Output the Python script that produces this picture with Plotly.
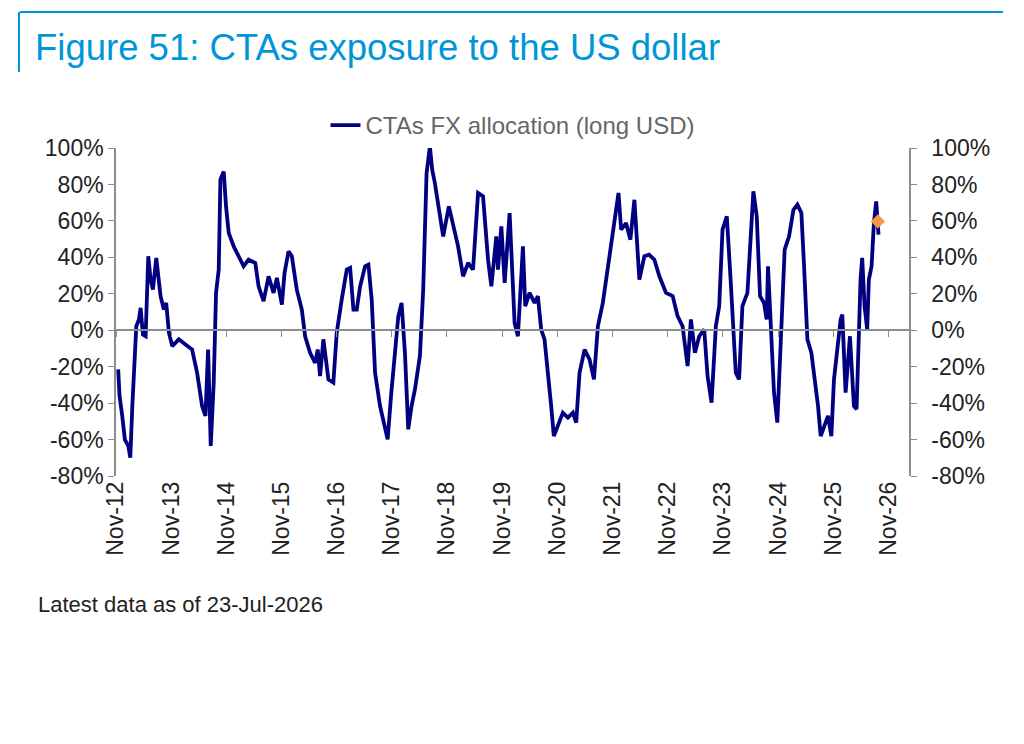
import pandas as pd
import plotly.graph_objects as go

# decimal year / allocation (% long USD)
years = [
    2012.875, 2012.899, 2012.948, 2012.996, 2013.056, 2013.092, 2013.129, 2013.165, 2013.201, 2013.249,
    2013.279, 2013.321, 2013.370, 2013.418, 2013.460, 2013.502, 2013.563, 2013.641, 2013.701, 2013.743,
    2013.792, 2013.852, 2013.972, 2014.093, 2014.213, 2014.304, 2014.394, 2014.455, 2014.503, 2014.551,
    2014.605, 2014.647, 2014.696, 2014.726, 2014.786, 2014.828, 2014.877, 2014.967, 2015.057, 2015.148,
    2015.238, 2015.359, 2015.419, 2015.509, 2015.600, 2015.690, 2015.751, 2015.841, 2015.889, 2015.962,
    2016.022, 2016.112, 2016.203, 2016.263, 2016.353, 2016.444, 2016.492, 2016.534, 2016.594, 2016.685,
    2016.775, 2016.836, 2016.926, 2017.016, 2017.077, 2017.137, 2017.197, 2017.258, 2017.348, 2017.408,
    2017.468, 2017.529, 2017.619, 2017.679, 2017.757, 2017.818, 2017.890, 2017.950, 2018.010, 2018.071,
    2018.131, 2018.191, 2018.252, 2018.342, 2018.402, 2018.463, 2018.523, 2018.565, 2018.613, 2018.704,
    2018.764, 2018.867, 2018.945, 2019.035, 2019.126, 2019.216, 2019.306, 2019.397, 2019.487, 2019.578,
    2019.638, 2019.728, 2019.758, 2019.819, 2019.879, 2019.969, 2020.060, 2020.120, 2020.211, 2020.253,
    2020.331, 2020.422, 2020.482, 2020.542, 2020.602, 2020.663, 2020.723, 2020.771, 2020.843, 2020.934,
    2021.024, 2021.115, 2021.175, 2021.235, 2021.326, 2021.416, 2021.496, 2021.568, 2021.657, 2021.718,
    2021.796, 2021.856, 2021.941, 2021.989, 2022.079, 2022.157, 2022.230, 2022.320, 2022.411, 2022.496,
    2022.592, 2022.683, 2022.803, 2022.924, 2023.014, 2023.104, 2023.195, 2023.255, 2023.327, 2023.406,
    2023.496, 2023.557, 2023.629, 2023.707, 2023.768, 2023.828, 2023.906, 2023.978, 2024.069, 2024.129,
    2024.189, 2024.280, 2024.328, 2024.388, 2024.449, 2024.509, 2024.581, 2024.629, 2024.653, 2024.702,
    2024.762, 2024.822, 2024.883, 2024.955, 2025.033, 2025.112, 2025.184, 2025.256, 2025.305, 2025.365,
    2025.437, 2025.485, 2025.558, 2025.606, 2025.678, 2025.739, 2025.799, 2025.847, 2025.907, 2025.968,
    2025.998, 2026.058, 2026.137, 2026.209, 2026.257, 2026.329, 2026.359, 2026.402, 2026.450, 2026.480,
    2026.529, 2026.571, 2026.613, 2026.655,
]
alloc = [
    -21.5, -36, -47, -60, -63.5, -70, -41.6, -23, 2.2, 5.9,
    12.3, -2.4, -3.3, 40.6, 27.8, 22.3, 39.7, 18.7, 11.3, 15,
    -1.4, -8.7, -5, -7.8, -10.6, -23.4, -41.6, -47, -10.6, -63.5,
    -28.8, 20.5, 33.3, 82.6, 87.1, 68, 53.4, 46, 40.6, 35.1,
    38.7, 36.9, 24.1, 15.9, 29.6, 20.5, 28.7, 14.1, 31.4, 43.3,
    40.6, 22.3, 11.3, -3.3, -12.4, -17.9, -10.6, -25.2, -5, -27,
    -28.8, -1.4, 16.8, 33.3, 34.2, 11.3, 11.3, 24.1, 35.1, 36,
    16.8, -23.4, -41.6, -48.9, -59.9, -36.1, -12.4, 7.7, 15, -12.4,
    -54.4, -41.6, -32.5, -14.2, 22.3, 86.2, 100.8, 88.1, 80.8, 62.5,
    51.5, 68, 57, 46, 29.6, 36.9, 33.3, 75.3, 73.5, 38.7,
    24.1, 51.5, 33.3, 57, 26, 64.3, 4, -3.3, 46, 13.2,
    20.5, 15, 18.7, 0.4, -5, -21.5, -41.6, -58.1, -52.6, -45.3,
    -48, -45.3, -50.7, -23.4, -10.6, -16, -27, 2.2, 15, 27.8,
    46, 55.2, 75.3, 55.2, 58.8, 49.7, 71.6, 27.8, 40.6, 41.5,
    38.7, 29.6, 20.5, 18.7, 7.7, 2.2, -19.7, 5.9, -12.4, -3.3,
    0.4, -25.2, -39.8, 2.2, 13.2, 55.2, 62.5, 26, -23.4, -27,
    13.2, 20.5, 44.2, 76.2, 62.5, 18.7, 15, 5.9, 35.1, 2.2,
    -34.3, -50.7, -5, 44.2, 51.5, 66.1, 68.9, 64.3, 35.1, -5,
    -12.4, -23.4, -41.6, -58.1, -52.6, -47, -58.1, -27, -10.6, 5.9,
    8.6, -34.3, -3.3, -41.6, -43.4, 27.8, 39.7, 13.2, 0.4, 27.8,
    35.1, 58.8, 70.7, 52.5,
]
latest_year = [2026.643]
latest_value = [59.7]

tick_years = list(range(2012, 2027))
tick_labels = [f"Nov-{str(y)[-2:]}" for y in tick_years]


def to_date(yrs):
    out = []
    for y in yrs:
        base = pd.Timestamp(year=int(y), month=1, day=1)
        out.append(base + pd.Timedelta(days=(y - int(y)) * 365.25))
    return out


BLUE = "#0096D6"
GREY = "#8c8c8c"
FONT = "Liberation Sans"

fig = go.Figure()
fig.add_trace(go.Scatter(x=to_date(years), y=alloc, mode="lines",
                         line=dict(color="#000080", width=3.8),
                         name="CTAs FX allocation (long USD)"))
fig.add_trace(go.Scatter(x=to_date(latest_year), y=latest_value, mode="markers",
                         marker=dict(symbol="diamond", size=11, color="#F79646"),
                         showlegend=False))
# invisible traces so the right axis and the zero-line axis get drawn
fig.add_trace(go.Scatter(x=to_date(latest_year), y=latest_value, yaxis="y2",
                         mode="markers", marker=dict(opacity=0), showlegend=False,
                         hoverinfo="skip"))
fig.add_trace(go.Scatter(x=to_date(latest_year), y=latest_value, xaxis="x2",
                         mode="markers", marker=dict(opacity=0), showlegend=False,
                         hoverinfo="skip"))

tickvals = [pd.Timestamp(year=y, month=11, day=1) for y in tick_years]
xrange = [pd.Timestamp("2012-11-01"), pd.Timestamp("2027-03-18")]
yticks = list(range(-80, 101, 20))
ytext = [f"{v}%" for v in yticks]

# page body adds an 8px offset, so margins are shifted by 8
fig.update_layout(
    width=1024, height=744,
    paper_bgcolor="white", plot_bgcolor="white",
    margin=dict(l=108, r=123, t=140, b=276),
    font=dict(family=FONT, size=23, color="#222222"),
    showlegend=True,
    legend=dict(orientation="h", x=0.5, xanchor="center", y=1.0, yanchor="bottom",
                font=dict(size=24, color="#666666"), bgcolor="rgba(0,0,0,0)"),
    xaxis=dict(range=xrange, tickvals=tickvals, ticktext=tick_labels, tickangle=-90,
               showline=False, showgrid=False, zeroline=False, ticks=""),
    xaxis2=dict(range=xrange, tickvals=tickvals, overlaying="x", anchor="free",
                position=80 / 180, showline=True, linecolor=GREY, linewidth=1.5,
                ticks="outside", ticklen=6, tickcolor=GREY, showticklabels=False,
                showgrid=False, zeroline=False),
    yaxis=dict(range=[-80, 100], tickvals=yticks, ticktext=ytext, showgrid=False,
               zeroline=False, showline=True, linecolor=GREY, linewidth=1.5,
               ticks="outside", ticklen=6, tickcolor=GREY),
    yaxis2=dict(range=[-80, 100], tickvals=yticks, ticktext=ytext, overlaying="y",
                side="right", showgrid=False, zeroline=False, showline=True,
                linecolor=GREY, linewidth=1.5, ticks="outside", ticklen=6,
                tickcolor=GREY, ticklabelstandoff=10),
)

# title frame and text
fig.add_shape(type="line", xref="paper", yref="paper", x0=-96 / 793, x1=887 / 793,
              y0=1 + 136 / 328, y1=1 + 136 / 328, line=dict(color=BLUE, width=2))
fig.add_shape(type="line", xref="paper", yref="paper", x0=-97 / 793, x1=-97 / 793,
              y0=1 + 136 / 328, y1=1 + 76 / 328, line=dict(color=BLUE, width=2))
fig.add_annotation(text="Figure 51: CTAs exposure to the US dollar", xref="paper",
                   yref="paper", x=-83 / 793, y=1 + 100 / 328, xanchor="left",
                   yanchor="middle", showarrow=False,
                   font=dict(size=36.5, color=BLUE, family=FONT))
fig.add_annotation(text="Latest data as of 23-Jul-2026", xref="paper", yref="paper",
                   x=-80 / 793, y=-128 / 328, xanchor="left", yanchor="middle",
                   showarrow=False, font=dict(size=22, color="#222222", family=FONT))

fig.write_html("out.html")
